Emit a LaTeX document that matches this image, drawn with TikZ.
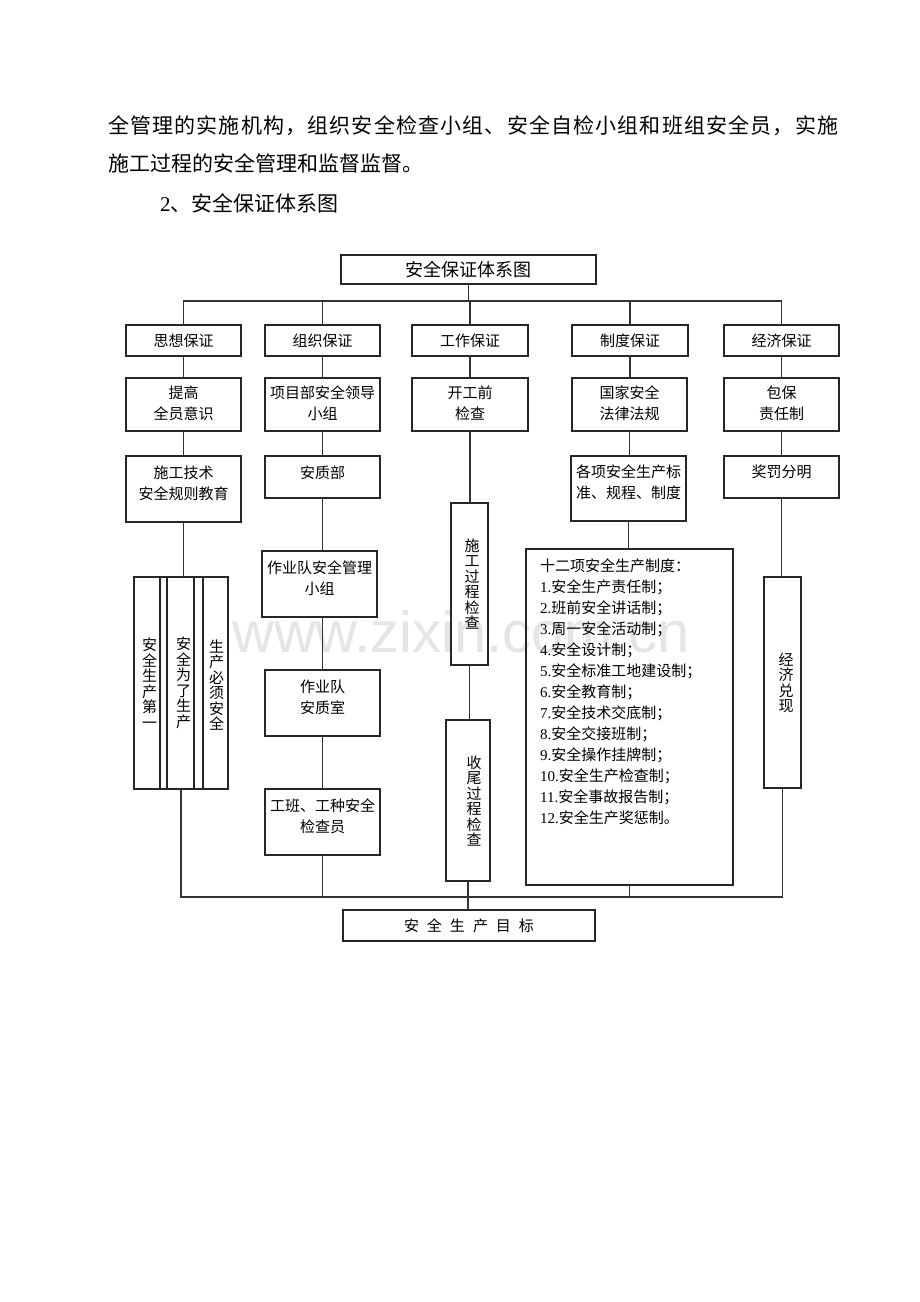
\documentclass[tikz,border=0pt]{standalone}
\usepackage{fontspec}
\setmainfont{Liberation Serif}
\newfontfamily\cjk{Noto Sans CJK SC}
\newfontfamily\wmfont{Liberation Sans}
\def\spr#1{#1\sprx}
\def\sprx#1{\ifx#1\relax\else\hfil#1\expandafter\sprx\fi}
\begin{document}
\begin{tikzpicture}[x=1pt,y=-1pt,
  box/.style={draw=black!85, line width=1.4pt, inner sep=0pt, outer sep=0pt, font=\cjk\fontsize{15}{21}\selectfont, align=center, rectangle},
  ln/.style={draw=black!80, line width=1.8pt},
  txt/.style={inner sep=0pt, font=\cjk\fontsize{15}{21}\selectfont, align=center},
  vtxt/.style={inner sep=0pt, font=\cjk\fontsize{15}{15.5}\selectfont, align=center},
  body/.style={inner sep=0pt, anchor=base west, font=\cjk\fontsize{21}{21}\selectfont}]
\fill[white] (0,0) rectangle (920,1302);
% watermark
\node[anchor=base west, inner sep=0pt, text=black!10, font=\wmfont\fontsize{58}{58}\selectfont] (wm) at (232,652) {www.zixin.com.cn};
% body text
\node[body] (p1) at (108,133) {\makebox[730pt][s]{\spr 全管理的实施机构，组织安全检查小组、安全自检小组和班组安全员，实施\relax}};
\node[body] (p2) at (108,171) {施工过程的安全管理和监督监督。};
\node[body] (p3) at (160,211) {{\rmfamily 2}、安全保证体系图};
% title
\node[box, minimum width=255pt, minimum height=29pt, font=\cjk\fontsize{18}{18}\selectfont] (title) at (468.5,269.5) {安全保证体系图};
% level 1 (y 325-356)
\node[box, minimum width=115pt, minimum height=31pt] (a1) at (183.5,340.5) {思想保证};
\node[box, minimum width=115pt, minimum height=31pt] (b1) at (322.5,340.5) {组织保证};
\node[box, minimum width=116pt, minimum height=31pt] (c1) at (470,340.5) {工作保证};
\node[box, minimum width=116pt, minimum height=31pt] (d1) at (630,340.5) {制度保证};
\node[box, minimum width=115pt, minimum height=31pt] (e1) at (781.5,340.5) {经济保证};
% level 2 (y 378-431)
\node[box, minimum width=115pt, minimum height=53pt] (a2) at (183.5,404.5) {};
\node[txt] (a2t) at (183.5,403) {提高\\全员意识};
\node[box, minimum width=115pt, minimum height=53pt] (b2) at (322.5,404.5) {};
\node[txt] (b2t) at (322.5,403) {项目部安全领导\\小组};
\node[box, minimum width=116pt, minimum height=53pt] (c2) at (470,404.5) {};
\node[txt] (c2t) at (470,403) {开工前\\检查};
\node[box, minimum width=115pt, minimum height=53pt] (d2) at (629.5,404.5) {};
\node[txt] (d2t) at (629.5,403) {国家安全\\法律法规};
\node[box, minimum width=115pt, minimum height=53pt] (e2) at (781.5,404.5) {};
\node[txt] (e2t) at (781.5,403) {包保\\责任制};
% level 3
\node[box, minimum width=115pt, minimum height=66pt] (a3) at (183.5,489) {};
\node[txt] (a3t) at (183.5,483) {施工技术\\安全规则教育};
\node[box, minimum width=115pt, minimum height=42pt] (b3) at (322.5,477) {};
\node[txt] (b3t) at (322.5,473) {安质部};
\node[box, minimum width=115pt, minimum height=65pt] (d3) at (628.5,488.5) {};
\node[txt] (d3t) at (628.5,482) {各项安全生产标\\准、规程、制度};
\node[box, minimum width=115pt, minimum height=42pt] (e3) at (781.5,477) {};
\node[txt] (e3t) at (781.5,472) {奖罚分明};
% column 1 group (x 134-228, y 577-789)
\node[box, minimum width=94pt, minimum height=212pt] (grp) at (181,683) {};
\node[box, minimum width=26pt, minimum height=212pt] (ga) at (147,683) {};
\node[box, minimum width=27pt, minimum height=212pt] (gb) at (180.5,683) {};
\node[box, minimum width=25pt, minimum height=212pt] (gc) at (215.5,683) {};
\node[vtxt] (gat) at (149.5,683) {安\\全\\生\\产\\第\\一};
\node[vtxt] (gbt) at (183.5,683) {安\\全\\为\\了\\生\\产};
\node[vtxt] (gct) at (216.5,685) {生\\产\\必\\须\\安\\全};
% column 2
\node[box, minimum width=115pt, minimum height=66pt] (b4) at (319.5,584) {};
\node[txt] (b4t) at (319.5,578.5) {作业队安全管理\\小组};
\node[box, minimum width=115pt, minimum height=66pt] (b5) at (322.5,703) {};
\node[txt] (b5t) at (322.5,697) {作业队\\安质室};
\node[box, minimum width=115pt, minimum height=66pt] (b6) at (322.5,822) {};
\node[txt] (b6t) at (322.5,816) {工班、工种安全\\检查员};
% column 3
\node[box, minimum width=37pt, minimum height=162pt] (c3) at (469.5,584) {};
\node[vtxt] (c3t) at (472,584) {施\\工\\过\\程\\检\\查};
\node[box, minimum width=44pt, minimum height=161pt] (c4) at (468,800.5) {};
\node[vtxt] (c4t) at (474,801) {收\\尾\\过\\程\\检\\查};
% column 4 list (x 526-733, y 549-885)
\node[box, minimum width=207pt, minimum height=336pt] (d4) at (629.5,717) {};
\foreach \t [count=\i from 0] in {十二项安全生产制度：,
  {{\rmfamily 1.}安全生产责任制；},
  {{\rmfamily 2.}班前安全讲话制；},
  {{\rmfamily 3.}周一安全活动制；},
  {{\rmfamily 4.}安全设计制；},
  {{\rmfamily 5.}安全标准工地建设制；},
  {{\rmfamily 6.}安全教育制；},
  {{\rmfamily 7.}安全技术交底制；},
  {{\rmfamily 8.}安全交接班制；},
  {{\rmfamily 9.}安全操作挂牌制；},
  {{\rmfamily 10.}安全生产检查制；},
  {{\rmfamily 11.}安全事故报告制；},
  {{\rmfamily 12.}安全生产奖惩制。}}
  \node[txt, anchor=base west] (li\i) at (540,{571.7+21*\i}) {\t};
% column 5
\node[box, minimum width=37pt, minimum height=211pt] (e4) at (782.5,682.5) {};
\node[vtxt] (e4t) at (786,683) {经\\济\\兑\\现};
% goal (x 343-595, y 910-941)
\node[box, minimum width=252pt, minimum height=31pt] (goal) at (469,925.5) {安\hspace{8pt}全\hspace{8pt}生\hspace{8pt}产\hspace{8pt}目\hspace{8pt}标};
% connectors top
\coordinate (tb) at (0,301);
\coordinate (bb) at (0,897);
\draw[ln] (title.south) -- (title.south |- tb);
\draw[ln] (a1.north) -- (a1.north |- tb) -- (e1.north |- tb) -- (e1.north);
\draw[ln] (b1.north) -- (b1.north |- tb);
\draw[ln] (c1.north) -- (c1.north |- tb);
\draw[ln] (d1.north) -- (d1.north |- tb);
% column 1
\draw[ln] (a1.south) -- (a2.north);
\draw[ln] (a2.south) -- (a3.north);
\draw[ln] (a3.south) -- (a3.south |- grp.north);
% column 2
\draw[ln] (b1.south) -- (b2.north);
\draw[ln] (b2.south) -- (b3.north);
\draw[ln] (b3.south) -- (b3.south |- b4.north);
\draw[ln] (b3.south |- b4.south) -- (b5.north);
\draw[ln] (b5.south) -- (b6.north);
% column 3
\draw[ln] (c1.south) -- (c2.north);
\draw[ln] (c2.south) -- (c2.south |- c3.north);
\draw[ln] (c3.south) -- (c3.south |- c4.north);
\draw[ln] (c4.south) -- (c4.south |- goal.north);
% column 4
\draw[ln] (d1.south) -- (d1.south |- d2.north);
\draw[ln] (d2.south) -- (d2.south |- d3.north);
\draw[ln] (d3.south) -- (d3.south |- d4.north);
\draw[ln] (d4.south) -- (d4.south |- bb);
% column 5
\draw[ln] (e1.south) -- (e2.north);
\draw[ln] (e2.south) -- (e3.north);
\draw[ln] (e3.south) -- (e3.south |- e4.north);
% bottom bus
\draw[ln] (grp.south) -- (grp.south |- bb) -- (e4.south |- bb) -- (e4.south);
\draw[ln] (b6.south) -- (b6.south |- bb);
\end{tikzpicture}
\end{document}
